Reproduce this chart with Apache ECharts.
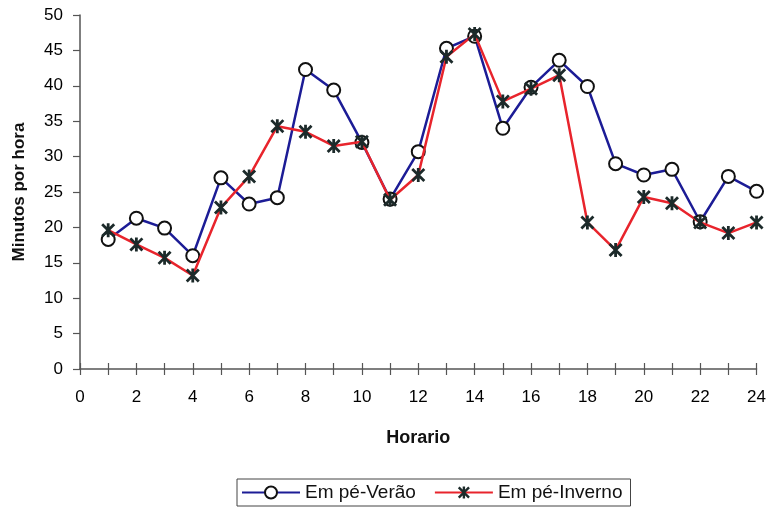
<!DOCTYPE html>
<html><head><meta charset="utf-8">
<script src="https://cdn.jsdelivr.net/npm/echarts@6/dist/echarts.min.js"></script>
<style>html,body{margin:0;padding:0;background:#fff}#c{width:769px;height:511px}</style>
</head><body><div id="c"></div>
<script>
const hours = [1,2,3,4,5,6,7,8,9,10,11,12,13,14,15,16,17,18,19,20,21,22,23,24];
const verao = [18.3,21.3,19.9,16.0,27.0,23.3,24.2,42.3,39.4,32.0,24.0,30.7,45.3,47.0,34.0,39.8,43.6,39.9,29.0,27.4,28.2,20.8,27.2,25.1];
const inverno = [19.6,17.6,15.7,13.2,22.8,27.2,34.3,33.5,31.5,32.1,23.9,27.4,44.1,47.3,37.8,39.6,41.5,20.7,16.8,24.3,23.4,20.7,19.2,20.7];
const seriesNames = ['Em pé-Verão','Em pé-Inverno'];
const xTitle = 'Horario';
const yTitle = 'Minutos por hora';

const star = 'path://M4,0L6,0L6,10L4,10Z M0,1.4L1.4,0L10,8.6L8.6,10Z M8.6,0L10,1.4L1.4,10L0,8.6Z';
const axisCol = '#555';
const font = 'Liberation Sans, Arial';
const chart = echarts.init(document.getElementById('c'));
chart.setOption({
  animation:false,
  backgroundColor:'#fff',
  grid:{left:80,right:12,top:15,bottom:142},
  legend:{
    bottom:5, left:237,
    data:seriesNames,
    borderColor:'#444', borderWidth:1, padding:[4,8,4,4],
    itemWidth:58, itemHeight:15, itemGap:18,
    textStyle:{fontFamily:font, fontSize:19, color:'#111'}
  },
  xAxis:[{
    type:'value', min:0, max:24, interval:1,
    name:xTitle, nameLocation:'middle', nameGap:60,
    nameTextStyle:{fontFamily:font, fontSize:18, fontWeight:'bold', color:'#111'},
    axisLine:{show:true, lineStyle:{color:axisCol, width:1.5}},
    axisTick:{show:true, length:6, lineStyle:{color:axisCol, width:1.2}},
    axisLabel:{margin:20, fontFamily:font, fontSize:17, color:'#000',
      formatter:v => (v % 2 === 0 ? String(v) : '')},
    splitLine:{show:false}
  },{
    type:'value', min:0, max:24, interval:1, position:'bottom',
    axisLine:{show:false},
    axisTick:{show:true, inside:true, length:6, lineStyle:{color:axisCol, width:1.2}},
    axisLabel:{show:false}, splitLine:{show:false}
  }],
  yAxis:{
    type:'value', min:0, max:50, interval:5,
    name:yTitle, nameLocation:'middle', nameGap:52, nameRotate:90,
    nameTextStyle:{fontFamily:font, fontSize:17, fontWeight:'bold', color:'#111'},
    axisLine:{show:true, lineStyle:{color:axisCol, width:1.5}},
    axisTick:{show:true, length:7, lineStyle:{color:axisCol, width:1.2}},
    axisLabel:{margin:17, fontFamily:font, fontSize:17, color:'#000'},
    splitLine:{show:false}
  },
  series:[{
    name:seriesNames[0], type:'line',
    data:hours.map((h,i)=>[h,verao[i]]),
    symbol:'circle', symbolSize:13,
    lineStyle:{color:'#1c1c96', width:2.5},
    itemStyle:{color:'#fff', borderColor:'#111', borderWidth:2},
    z:2
  },{
    name:seriesNames[1], type:'line',
    data:hours.map((h,i)=>[h,inverno[i]]),
    symbol:star, symbolSize:14,
    lineStyle:{color:'#e8242c', width:2.5},
    itemStyle:{color:'#1c2a2a', borderWidth:0},
    z:3
  }]
});
</script></body></html>
